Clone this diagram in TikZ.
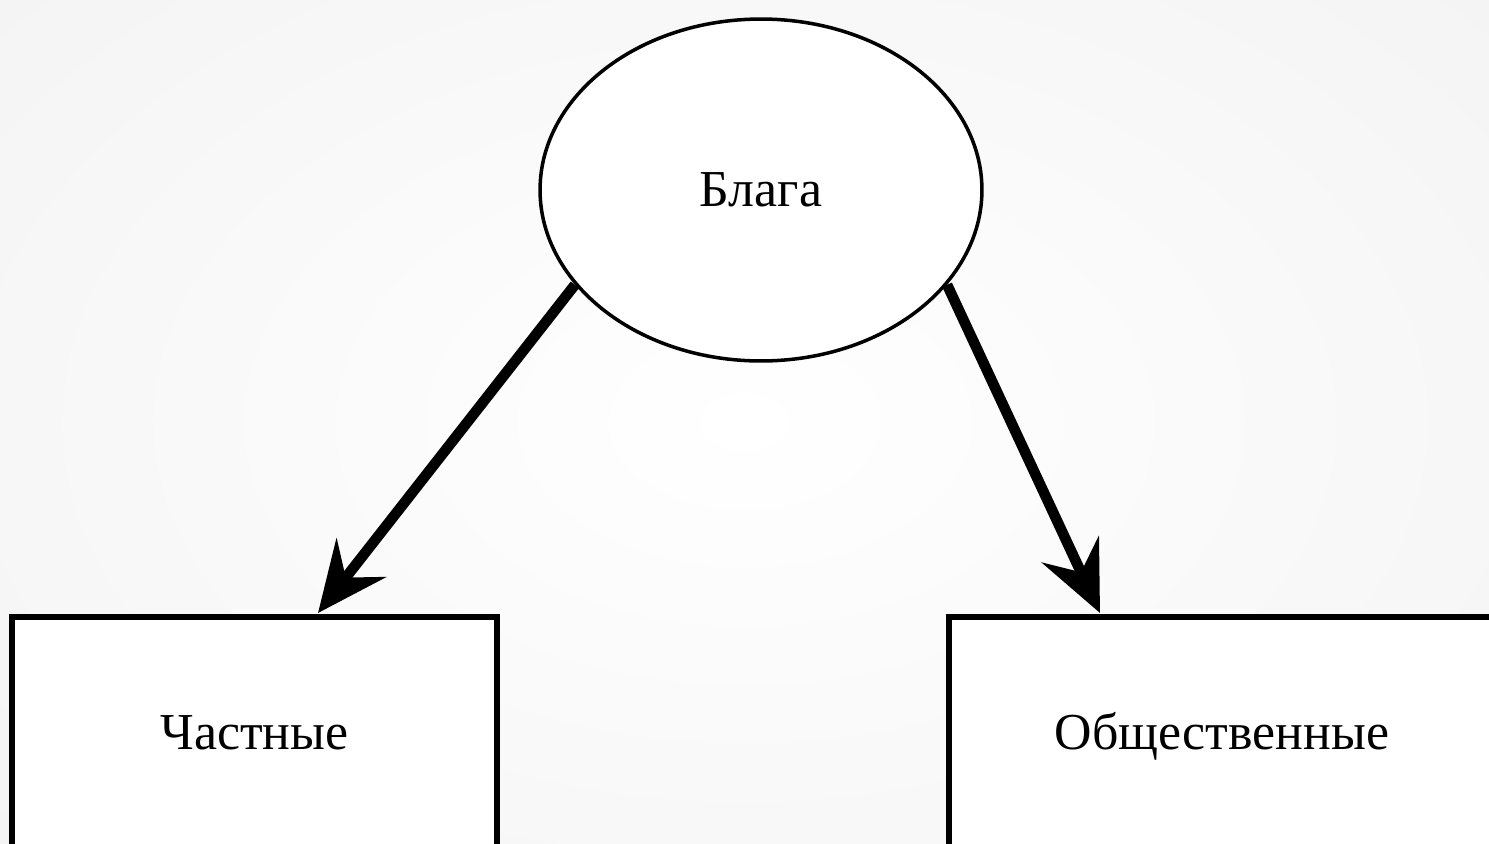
\documentclass[tikz,border=0pt]{standalone}
\usepackage{fontspec}
\setmainfont{Liberation Serif}
\usetikzlibrary{arrows.meta,shapes.geometric}

\begin{document}
\begin{tikzpicture}[x=0.02cm, y=-0.02cm]
	\tikzset{oval/.style = {shape=ellipse, draw, line width=2pt, fill=white,
		minimum width=8.84cm, minimum height=6.84cm, font=\fontsize{29.5}{35}\selectfont}}
	\tikzset{box/.style = {shape=rectangle, draw, line width=3pt, fill=white,
		minimum height=5.16cm, text height=0.7em, text depth=0.25em,
		font=\fontsize{29.5}{35}\selectfont}}
	\tikzset{edge/.style = {-{Stealth[length=1.4cm, width=1.25cm, inset=0.5cm]}, line width=6pt}}
	\useasboundingbox (0,0) rectangle (1489,843);
	\clip (0,0) rectangle (1489,843);
	\shade[inner color=white, outer color=gray!9] (-300,-250) rectangle (1789,1093);
	\node[oval] (blaga) at (761, 190) {Блага};
	\node[box, minimum width=9.7cm] (chast) at (254.5, 746) {Частные};
	\node[box, minimum width=10.92cm] (obsh) at (1222, 746) {Общественные};
	\coordinate (tipL) at (318, 613);
	\coordinate (tipR) at (1100, 613);
	\draw[edge] (blaga.207) -- (tipL);
	\draw[edge] (blaga.333) -- (tipR);
\end{tikzpicture}
\end{document}
